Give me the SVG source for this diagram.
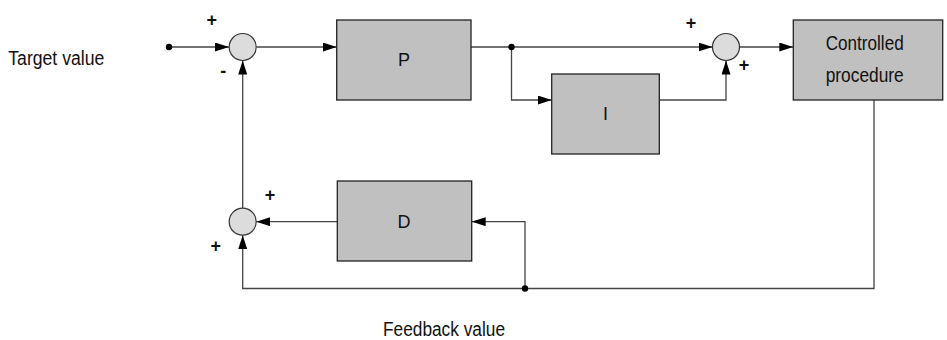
<svg xmlns="http://www.w3.org/2000/svg" width="947" height="340" viewBox="0 0 947 340">
<style>
.box{fill:#c0c0c0;stroke:#222;stroke-width:1.3}
.sum{fill:#dcdcdc;stroke:#333;stroke-width:1.2}
.ln{fill:none;stroke:#444;stroke-width:1.3}
.arr{marker-end:url(#ah)}
.dot{fill:#000}
.lbl{font-family:"Liberation Sans",Arial,sans-serif;font-size:20px;fill:#111}
.blk{font-family:"Liberation Sans",Arial,sans-serif;font-size:18px;fill:#111;text-anchor:middle}
.sgn{font-family:"Liberation Sans",Arial,sans-serif;font-size:18px;font-weight:bold;fill:#111;text-anchor:middle}
</style>
<defs>
<marker id="ah" markerUnits="userSpaceOnUse" markerWidth="14" markerHeight="10" refX="14" refY="4.5" orient="auto">
<path d="M0,0 L14,4.5 L0,9 z" fill="#000"/>
</marker>
</defs>
<rect width="947" height="340" fill="#fff"/>
<g id="connectors">
<path class="ln arr" d="M169,47 H229"/>
<path class="ln arr" d="M256.5,47 H336.7"/>
<path class="ln arr" d="M471,47 H712.5"/>
<path class="ln arr" d="M511.5,47 V100 H551.7"/>
<path class="ln arr" d="M659.3,100 H726 V60.5"/>
<path class="ln arr" d="M739.5,47 H793.3"/>
<path class="ln arr" d="M874,100 V288.5 H242.7 V235.2"/>
<path class="ln arr" d="M525,288.5 V221.7 H471.7"/>
<path class="ln arr" d="M337.3,221.7 H256.2"/>
<path class="ln arr" d="M242.7,208.2 V60.5"/>
<circle class="dot" cx="169" cy="47" r="3.2"/>
<circle class="dot" cx="511.5" cy="47" r="3.2"/>
<circle class="dot" cx="525" cy="288.5" r="3.2"/>
</g>
<g id="target-label"><text class="lbl" x="8.3" y="65" textLength="96" lengthAdjust="spacingAndGlyphs">Target value</text></g>
<g id="feedback-label"><text class="lbl" x="383" y="336" textLength="122" lengthAdjust="spacingAndGlyphs">Feedback value</text></g>
<g id="sum1">
<circle class="sum" cx="242.7" cy="47" r="13.5"/>
<text class="sgn" x="211.7" y="26">+</text>
<text class="sgn" x="223.3" y="77">-</text>
</g>
<g id="P"><rect class="box" x="336.7" y="20" width="134.3" height="80"/><text class="blk" x="404" y="66">P</text></g>
<g id="I"><rect class="box" x="551.7" y="74" width="107.6" height="80"/><text class="blk" x="605.5" y="120">I</text></g>
<g id="sum2">
<circle class="sum" cx="726" cy="47" r="13.5"/>
<text class="sgn" x="691" y="29">+</text>
<text class="sgn" x="744" y="71">+</text>
</g>
<g id="controlled"><rect class="box" x="793.3" y="20" width="149.4" height="80"/>
<text class="lbl" x="825.7" y="50" textLength="78" lengthAdjust="spacingAndGlyphs">Controlled</text>
<text class="lbl" x="825.7" y="82" textLength="78" lengthAdjust="spacingAndGlyphs">procedure</text></g>
<g id="D"><rect class="box" x="337.3" y="181" width="134.4" height="80"/><text class="blk" x="404" y="228">D</text></g>
<g id="sum3">
<circle class="sum" cx="242.7" cy="221.7" r="13.5"/>
<text class="sgn" x="270" y="201">+</text>
<text class="sgn" x="215.7" y="252">+</text>
</g>
</svg>
